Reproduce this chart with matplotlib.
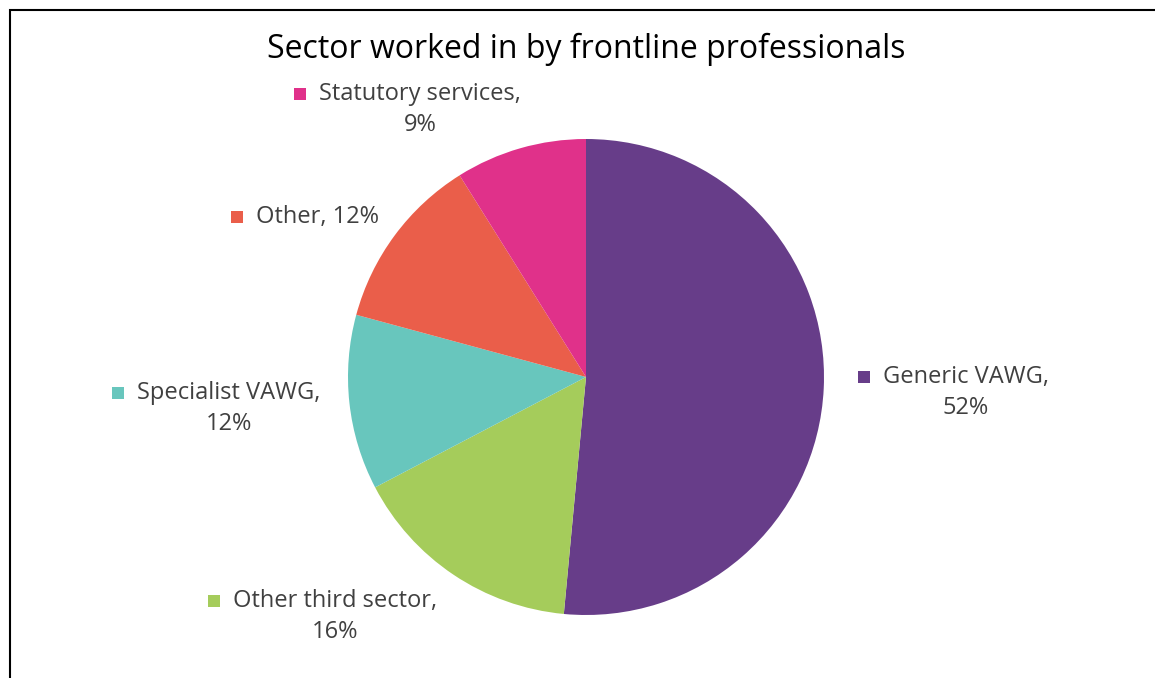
import matplotlib.pyplot as plt
from matplotlib.patches import Rectangle

sectors = ["Generic VAWG", "Other third sector", "Specialist VAWG", "Other", "Statutory services"]
shares = [52, 16, 12, 12, 9]
colors = ["#673D89", "#A5CC5B", "#68C6BD", "#EA5E4A", "#E0318A"]

# label blocks: (centre x, first line y, wrap after comma) in pixels from top-left
label_pos = [(966, 377, True), (335, 601, True), (229, 393, True), (317, 217, False), (420, 94, True)]

W, H = 1155, 678
fig = plt.figure(figsize=(W / 100, H / 100), dpi=100)
plt.rcParams['font.family'] = ['Open Sans', 'DejaVu Sans']

# pie centred at (586, 377) px with radius 238 px
cx, cy, r = 586, 377, 238
ax = fig.add_axes([(cx - r) / W, (H - cy - r) / H, 2 * r / W, 2 * r / H])
ax.pie(shares, colors=colors, startangle=90, counterclock=False,
       wedgeprops=dict(linewidth=0))
ax.set_xlim(-1, 1)
ax.set_ylim(-1, 1)
ax.set_aspect('equal')
ax.axis('off')

# chart border (left and top edges are visible)
fig.add_artist(Rectangle((10 / W, -0.1), 1.2, (H - 10) / H + 0.1,
                         transform=fig.transFigure, fill=False,
                         edgecolor='black', linewidth=1.5))

fig.text(586 / W, 1 - 49 / H, "Sector worked in by frontline professionals",
         ha='center', va='center', fontsize=23, color='black')

txt_color = '#404040'
fs = 17
fig.canvas.draw()
renderer = fig.canvas.get_renderer()
for name, val, col, (x, y, wrap) in zip(sectors, shares, colors, label_pos):
    if wrap:
        lines = [f"{name},", f"{val}%"]
    else:
        lines = [f"{name}, {val}%"]
    texts = []
    for i, s in enumerate(lines):
        texts.append(fig.text(x / W, 1 - (y + 31 * i) / H, s, ha='center',
                              va='center', fontsize=fs, color=txt_color))
    w = texts[0].get_window_extent(renderer).width
    sq = 12
    left = x - w / 2 - 13 - sq
    fig.add_artist(Rectangle((left / W, 1 - (y + sq / 2) / H), sq / W, sq / H,
                             transform=fig.transFigure, color=col, linewidth=0))

fig.savefig("out.png", dpi=100)
